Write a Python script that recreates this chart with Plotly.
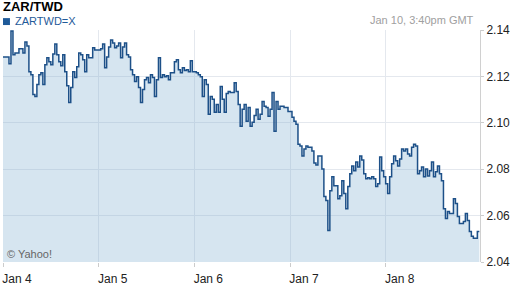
import pandas as pd
import plotly.graph_objects as go

# ZAR/TWD quotes, one every 30 minutes starting Jan 4 00:00
rates = [
    2.1284, 2.1284, 2.1284, 2.1254, 2.1396, 2.1293, 2.1301, 2.1301, 2.1319, 2.1319,
    2.1301, 2.1348, 2.1331, 2.1220, 2.1207, 2.1122, 2.1113, 2.1165, 2.1207, 2.1216,
    2.1165, 2.1250, 2.1280, 2.1263, 2.1250, 2.1297, 2.1340, 2.1293, 2.1263, 2.1246,
    2.1293, 2.1220, 2.1160, 2.1088, 2.1152, 2.1220, 2.1195, 2.1242, 2.1301, 2.1293,
    2.1272, 2.1220, 2.1293, 2.1280, 2.1280, 2.1323, 2.1314, 2.1314, 2.1314, 2.1319,
    2.1340, 2.1237, 2.1284, 2.1327, 2.1357, 2.1344, 2.1323, 2.1331, 2.1344, 2.1280,
    2.1327, 2.1344, 2.1293, 2.1284, 2.1229, 2.1207, 2.1178, 2.1199, 2.1152, 2.1088,
    2.1143, 2.1186, 2.1195, 2.1173, 2.1207, 2.1195, 2.1113, 2.1186, 2.1280, 2.1195,
    2.1207, 2.1199, 2.1203, 2.1186, 2.1216, 2.1216, 2.1263, 2.1272, 2.1229, 2.1216,
    2.1237, 2.1225, 2.1229, 2.1220, 2.1267, 2.1220, 2.1220, 2.1216, 2.1207, 2.1199,
    2.1113, 2.1186, 2.1165, 2.1037, 2.1113, 2.1101, 2.1045, 2.1079, 2.1045, 2.1156,
    2.1101, 2.1045, 2.1126, 2.1135, 2.1131, 2.1131, 2.1173, 2.1135, 2.1079, 2.0985,
    2.1058, 2.1079, 2.1007, 2.1066, 2.0985, 2.1002, 2.1032, 2.1058, 2.1015, 2.1037,
    2.1092, 2.1071, 2.1066, 2.1028, 2.1058, 2.1131, 2.0964, 2.1092, 2.1058, 2.1071,
    2.1071, 2.1066, 2.1066, 2.1049, 2.1049, 2.1024, 2.1007, 2.0994, 2.0908, 2.0900,
    2.0857, 2.0887, 2.0900, 2.0895, 2.0895, 2.0878, 2.0827, 2.0818, 2.0857, 2.0857,
    2.0801, 2.0682, 2.0665, 2.0536, 2.0707, 2.0767, 2.0729, 2.0729, 2.0673, 2.0686,
    2.0750, 2.0695, 2.0630, 2.0725, 2.0780, 2.0814, 2.0793, 2.0831, 2.0810, 2.0857,
    2.0840, 2.0780, 2.0759, 2.0763, 2.0759, 2.0767, 2.0759, 2.0725, 2.0737, 2.0853,
    2.0793, 2.0767, 2.0737, 2.0695, 2.0767, 2.0823, 2.0857, 2.0836, 2.0814, 2.0844,
    2.0887, 2.0878, 2.0887, 2.0866, 2.0857, 2.0895, 2.0908, 2.0900, 2.0780, 2.0793,
    2.0810, 2.0767, 2.0801, 2.0771, 2.0793, 2.0831, 2.0767, 2.0789, 2.0814, 2.0780,
    2.0750, 2.0630, 2.0588, 2.0618, 2.0609, 2.0609, 2.0673, 2.0652, 2.0596, 2.0566,
    2.0566, 2.0575, 2.0609, 2.0579, 2.0532, 2.0511, 2.0502, 2.0502, 2.0532, 2.0532,
]
times = pd.date_range("2013-01-04 00:00", periods=len(rates), freq="30min")

day_ticks = ["2013-01-04", "2013-01-05", "2013-01-06", "2013-01-07", "2013-01-08"]
day_labels = ["Jan 4", "Jan 5", "Jan 6", "Jan 7", "Jan 8"]
y_ticks = [2.04, 2.06, 2.08, 2.10, 2.12, 2.14]
y_labels = ["2.04", "2.06", "2.08", "2.10", "2.12", "2.14"]

FONT = "Liberation Sans, Arial, sans-serif"
LINE = "#1d5088"
GRID = "#e4e8ee"

fig = go.Figure()
fig.add_trace(go.Scatter(
    x=times, y=rates, mode="lines", line=dict(color=LINE, width=1.5, shape="hv"),
    fill="tozeroy", fillcolor="rgba(130,175,210,0.33)", hoverinfo="skip",
))

fig.update_layout(
    width=512, height=288,
    margin=dict(l=2, r=30, t=30, b=24),
    paper_bgcolor="white", plot_bgcolor="white",
    showlegend=False,
    font=dict(family=FONT, size=12, color="#222222"),
    xaxis=dict(
        type="date", range=["2013-01-04 00:00", "2013-01-08 23:40"],
        tickvals=day_ticks, ticktext=day_labels,
        ticks="outside", ticklen=4, tickcolor="#cccccc",
        ticklabelshift=14, ticklabelstandoff=2,
        showgrid=True, gridcolor=GRID, gridwidth=1,
        showline=False, zeroline=False,
        tickfont=dict(size=12, color="#222222"),
    ),
    yaxis=dict(
        range=[2.04, 2.14], side="right",
        tickvals=y_ticks, ticktext=y_labels,
        ticks="outside", ticklen=3, tickcolor="#cccccc",
        showgrid=True, gridcolor=GRID, gridwidth=1,
        showline=True, linecolor="#d0d0d0", linewidth=1,
        zeroline=False,
        tickfont=dict(size=12, color="#222222"),
    ),
)

fig.add_annotation(text="<b>ZAR/TWD</b>", xref="paper", yref="paper",
                   x=0, y=1, xanchor="left", yanchor="bottom", yshift=14, xshift=-2,
                   showarrow=False, font=dict(family=FONT, size=13, color="#000000"))
fig.add_shape(type="rect", xref="paper", yref="paper",
              x0=0, x1=7 / 480, y0=1 + 5 / 234, y1=1 + 12 / 234,
              fillcolor="#1f5a99", line=dict(width=0))
fig.add_annotation(text="ZARTWD=X", xref="paper", yref="paper",
                   x=10 / 480, y=1, xanchor="left", yanchor="bottom", yshift=1,
                   showarrow=False, font=dict(family=FONT, size=11, color="#1f5a99"))
fig.add_annotation(text="Jan 10, 3:40pm GMT", xref="paper", yref="paper",
                   x=476 / 480, y=1, xanchor="right", yanchor="bottom", yshift=2,
                   showarrow=False, font=dict(family=FONT, size=11, color="#a0a0a0"))
fig.add_annotation(text="© Yahoo!", xref="paper", yref="paper",
                   x=0, y=0, xanchor="left", yanchor="bottom", xshift=2, yshift=0,
                   showarrow=False, font=dict(family=FONT, size=11, color="#666666"))

fig.write_html("out.html")
